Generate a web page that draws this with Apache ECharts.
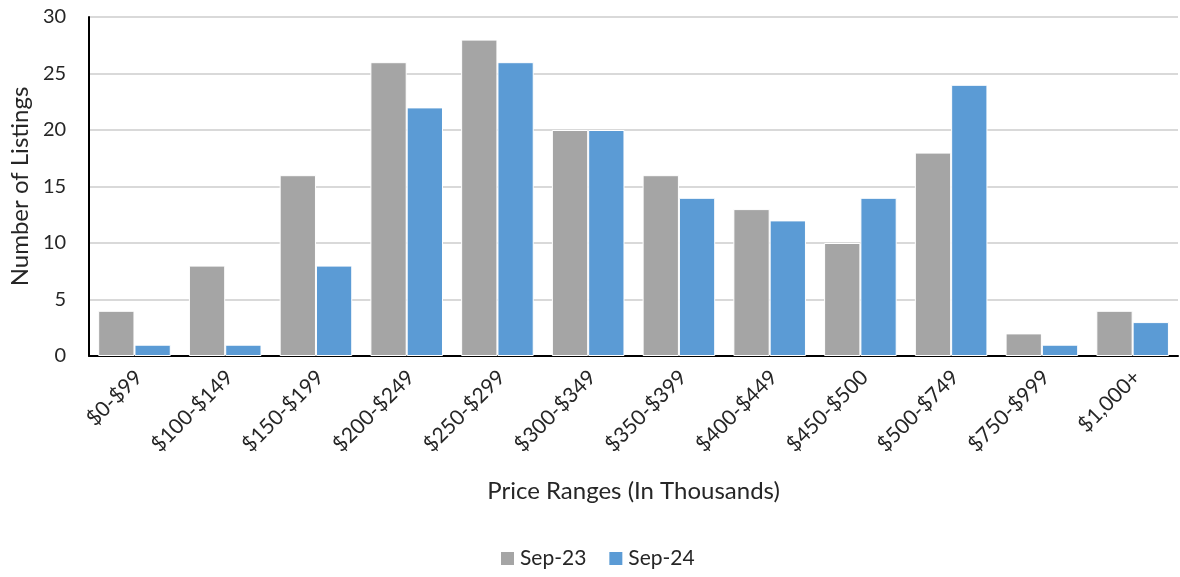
<!DOCTYPE html>
<html><head><meta charset="utf-8">
<script src="https://cdn.jsdelivr.net/npm/echarts@6/dist/echarts.min.js"></script>
<style>html,body{margin:0;padding:0;background:#fff}#c{width:1180px;height:577px}</style>
</head><body><div id="c"></div>
<script>
const categories = ["$0-$99","$100-$149","$150-$199","$200-$249","$250-$299","$300-$349","$350-$399","$400-$449","$450-$500","$500-$749","$750-$999","$1,000+"];
const sep23 = [4,8,16,26,28,20,16,13,10,18,2,4];
const sep24 = [1,1,8,22,26,20,14,12,14,24,1,3];
const seriesNames = ["Sep-23","Sep-24"];
const FONT = "Lato, 'Liberation Sans', sans-serif";
const chart = echarts.init(document.getElementById('c'));
chart.setOption({
  animation:false,
  textStyle:{fontFamily:FONT},
  grid:{left:89,right:2,top:17,bottom:221,containLabel:false},
  legend:{bottom:3,left:494,itemWidth:15,itemHeight:15,icon:'rect',itemGap:21,
    textStyle:{fontSize:21,color:'#262626',fontFamily:FONT},data:seriesNames},
  xAxis:{type:'category',data:categories,
    axisLine:{lineStyle:{color:'#000',width:2}},axisTick:{show:false},
    axisLabel:{rotate:45,fontSize:21,color:'#262626',margin:22,interval:0,fontFamily:FONT,
      padding:[0,-6,0,0]},
    name:'Price Ranges (In Thousands)',nameLocation:'middle',nameGap:123,
    nameTextStyle:{fontSize:24,color:'#262626',fontFamily:FONT}},
  yAxis:{type:'value',min:0,max:30,interval:5,
    axisLine:{show:true,lineStyle:{color:'#000',width:2}},axisTick:{show:false},
    splitLine:{lineStyle:{color:'#D9D9D9',width:2}},
    axisLabel:{fontSize:20,color:'#262626',margin:23,fontFamily:FONT},
    name:'Number of Listings',nameLocation:'middle',nameGap:56,
    nameTextStyle:{fontSize:24,color:'#262626',fontFamily:FONT}},
  series:[
    {name:seriesNames[0],type:'bar',data:sep23,barGap:'0%',barCategoryGap:'20%',
      itemStyle:{color:'#A5A5A5',borderColor:'#fff',borderWidth:1}},
    {name:seriesNames[1],type:'bar',data:sep24,barGap:'0%',barCategoryGap:'20%',
      itemStyle:{color:'#5B9BD5',borderColor:'#fff',borderWidth:1}}
  ]
});
</script></body></html>
